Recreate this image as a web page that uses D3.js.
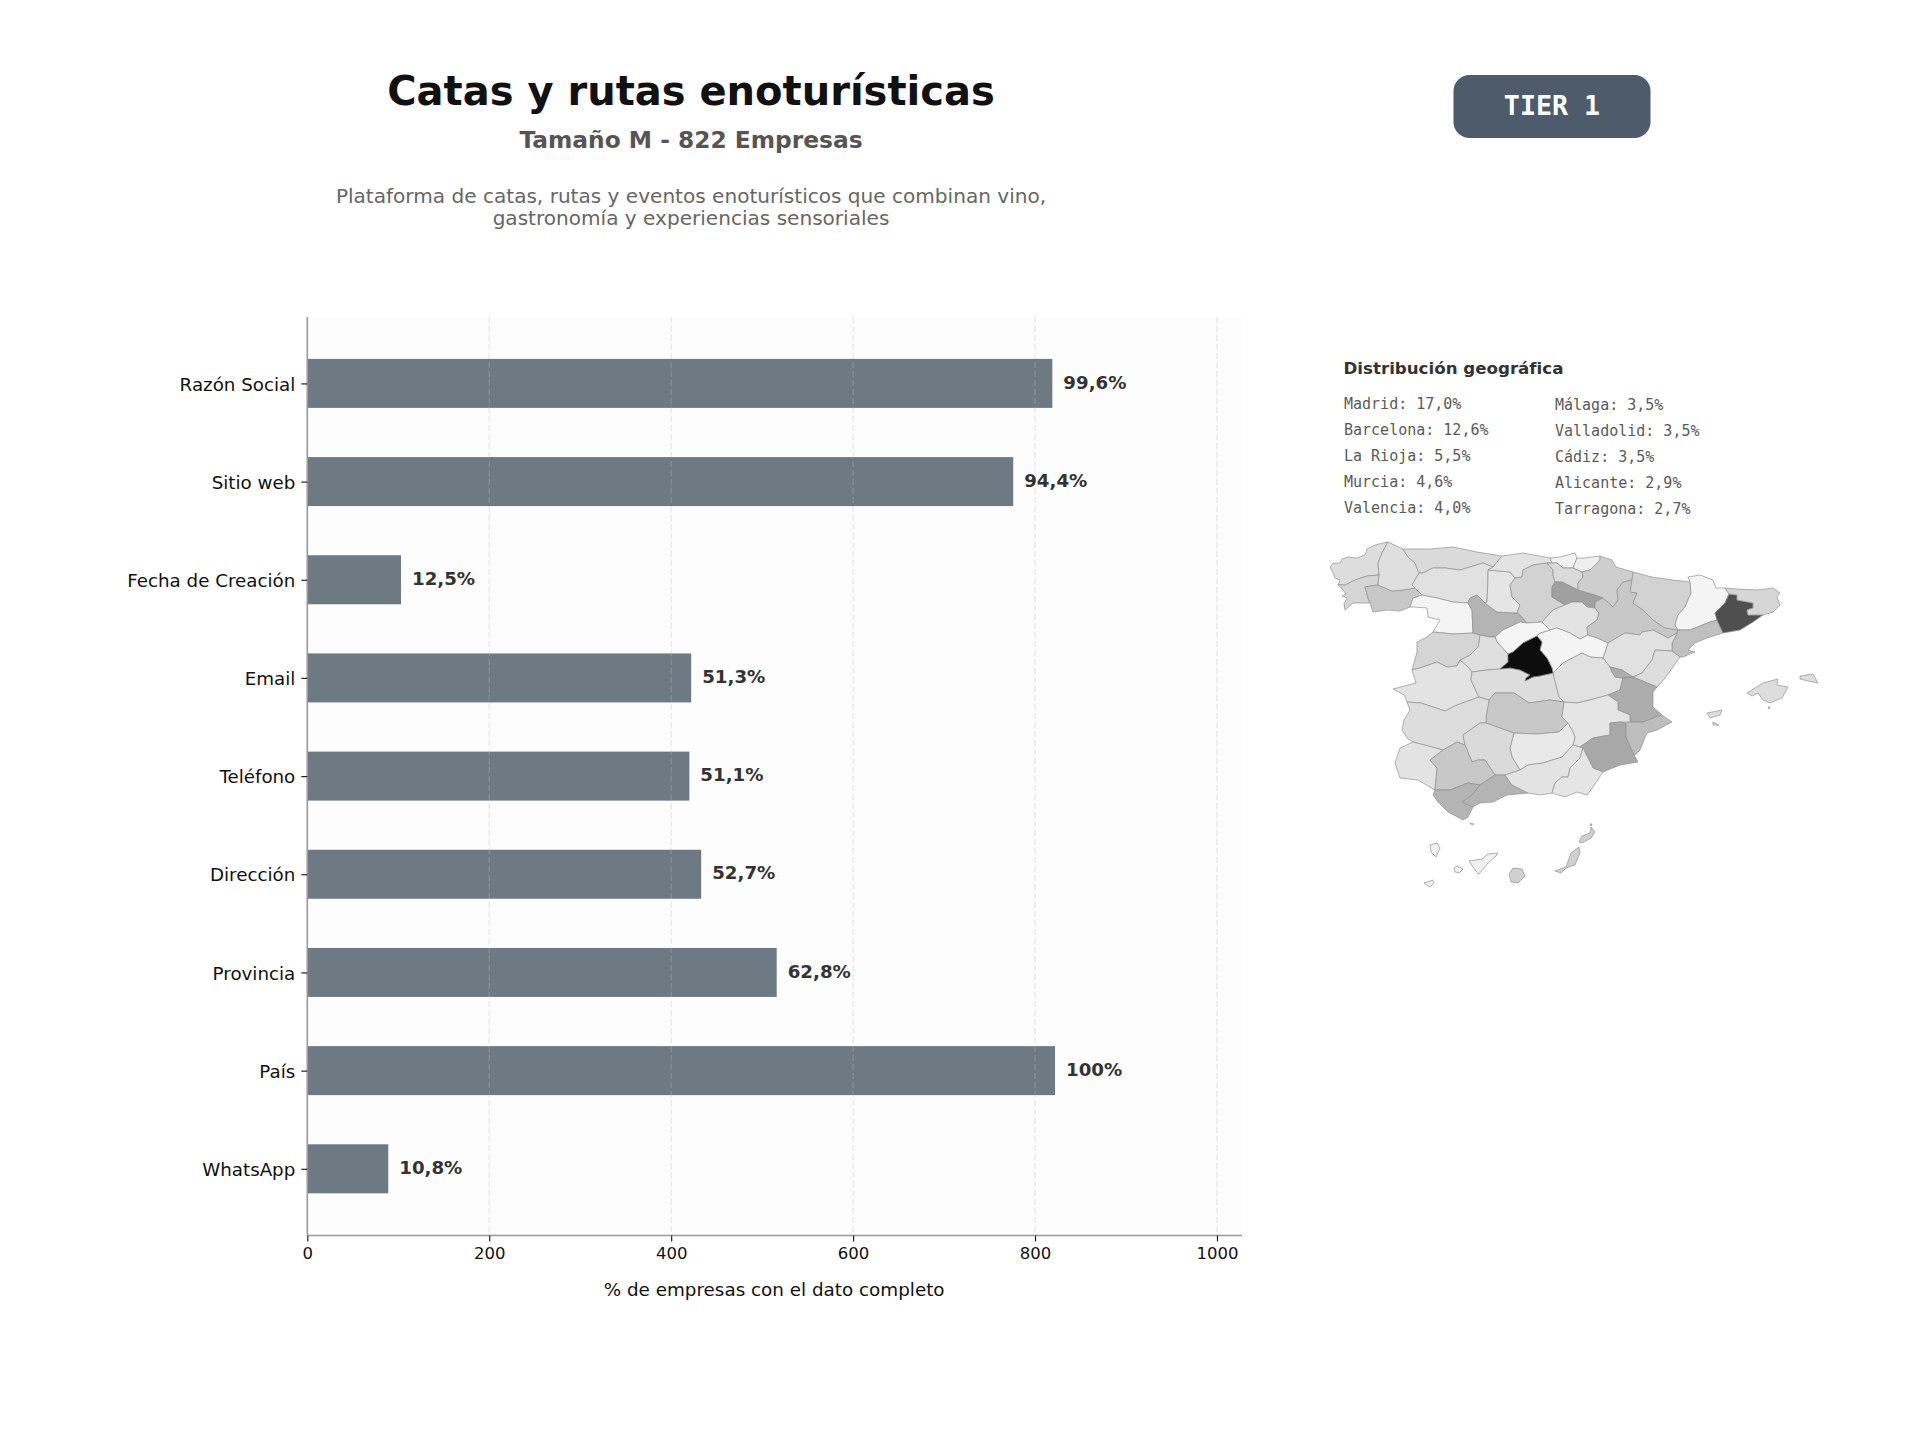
<!DOCTYPE html>
<html lang="es">
<head>
<meta charset="utf-8">
<title>Catas y rutas enoturísticas</title>
<script src="https://cdn.jsdelivr.net/npm/d3@7"></script>
<style>
html,body{margin:0;padding:0;background:#fff}
svg{display:block}
text{font-family:"DejaVu Sans",sans-serif}
.mono{font-family:"DejaVu Sans Mono",monospace}
</style>
</head>
<body>
<svg id="chart" width="1920" height="1440" viewBox="0 0 1920 1440"></svg>
<script>
const titleText = "Catas y rutas enoturísticas";
const subtitleText = "Tamaño M - 822 Empresas";
const descriptionLines = ["Plataforma de catas, rutas y eventos enoturísticos que combinan vino,", "gastronomía y experiencias sensoriales"];
const badgeText = "TIER 1";
const axisTitle = "% de empresas con el dato completo";
const mapTitle = "Distribución geográfica";

const categories = ["Razón Social","Sitio web","Fecha de Creación","Email","Teléfono","Dirección","Provincia","País","WhatsApp"];
const counts = [819,776,103,422,420,433,516,822,89];
const percentLabels = ["99,6%","94,4%","12,5%","51,3%","51,1%","52,7%","62,8%","100%","10,8%"];
const xTicks = [0,200,400,600,800,1000];
const xMax = 1027.5;

const topLeft = ["Madrid: 17,0%","Barcelona: 12,6%","La Rioja: 5,5%","Murcia: 4,6%","Valencia: 4,0%"];
const topRight = ["Málaga: 3,5%","Valladolid: 3,5%","Cádiz: 3,5%","Alicante: 2,9%","Tarragona: 2,7%"];

// Province shares (%): the ten listed are printed; the rest are estimated from the shade on the map.
const shareStops = [0,2.7,4,5.5,12.6,17];
const greyStops = ["#f7f7f7","#c0c0c0","#adadad","#a0a0a0","#505050","#111111"];

// Province outlines, in map units.
const provinces = [
 {name:"A Coruña",share:1.3,rings:[[[30,47],[33,43],[40,43],[42,39],[48,37],[57,38],[65,35],[67,29],[75,25],[83,23],[88,22],[82,33],[78,43],[79,55],[67,56],[55,60],[45,65],[38,65],[40,60],[35,58],[33,53]]]},
 {name:"Pontevedra",share:1.65,rings:[[[38,65],[45,65],[55,60],[67,56],[79,55],[78,65],[65,67],[68,78],[70,83],[53,83],[45,90],[44,84],[47,78],[42,76],[46,74],[43,70]]]},
 {name:"Ourense",share:2.3,rings:[[[65,67],[78,65],[92,71],[103,70],[115,68],[122,75],[113,78],[110,87],[100,91],[88,90],[73,92],[70,83],[68,78]]]},
 {name:"Lugo",share:1.2,rings:[[[88,22],[103,29],[108,37],[115,43],[119,53],[112,65],[115,68],[103,70],[92,71],[78,65],[79,55],[78,43],[82,33]]]},
 {name:"Asturias",share:1.4,rings:[[[103,29],[130,29],[153,27],[177,32],[202,36],[193,47],[183,43],[160,50],[145,48],[133,48],[123,53],[119,53],[115,43],[108,37]]]},
 {name:"León",share:1.1,rings:[[[119,53],[123,53],[133,48],[145,48],[160,50],[183,43],[193,47],[188,50],[188,58],[187,82],[185,83],[177,75],[170,78],[168,83],[153,82],[137,78],[122,75],[115,68],[112,65]]]},
 {name:"Zamora",share:0.15,rings:[[[113,78],[122,75],[137,78],[153,82],[168,83],[172,90],[173,113],[153,114],[133,112],[140,100],[128,97],[127,88],[115,87],[110,87]]]},
 {name:"Valladolid",share:3.5,rings:[[[170,78],[177,75],[185,83],[197,92],[217,93],[220,95],[227,103],[220,102],[203,110],[195,117],[190,117],[180,115],[173,113],[172,90],[168,83]]]},
 {name:"Palencia",share:0.9,rings:[[[188,50],[210,52],[215,58],[210,65],[212,77],[220,85],[217,93],[197,92],[185,83],[187,82],[188,58]]]},
 {name:"Cantabria",share:1.0,rings:[[[202,36],[223,33],[250,38],[252,43],[247,43],[233,45],[223,50],[222,57],[215,58],[210,52],[188,50],[193,47]]]},
 {name:"Burgos",share:1.8,rings:[[[233,45],[247,43],[253,50],[253,55],[255,62],[252,67],[252,77],[257,80],[265,85],[253,90],[242,102],[227,103],[220,95],[217,93],[220,85],[212,77],[210,65],[215,58],[222,57],[223,50]]]},
 {name:"Bizkaia",share:0.3,rings:[[[250,38],[260,37],[275,33],[277,38],[273,48],[263,48],[257,43],[252,43]]]},
 {name:"Gipuzkoa",share:0.4,rings:[[[277,38],[285,38],[300,36],[300,40],[290,50],[282,52],[273,48]]]},
 {name:"Álava",share:1.4,rings:[[[252,43],[257,43],[263,48],[273,48],[282,52],[283,57],[278,63],[278,70],[262,62],[255,62],[253,55],[253,50],[247,43]]]},
 {name:"La Rioja",share:5.5,rings:[[[255,62],[262,62],[278,70],[295,75],[303,78],[295,82],[295,88],[287,87],[282,82],[272,82],[265,85],[257,80],[252,77],[252,67]]]},
 {name:"Soria",share:1.0,rings:[[[242,102],[253,90],[265,85],[272,82],[282,82],[287,87],[295,88],[299,93],[297,100],[287,107],[288,115],[280,119],[270,113],[257,108],[250,110]]]},
 {name:"Navarra",share:2.0,rings:[[[282,52],[290,50],[300,40],[300,36],[312,40],[316,47],[333,52],[332,60],[323,62],[317,70],[318,80],[313,87],[303,78],[295,75],[278,70],[278,63],[283,57]]]},
 {name:"Zaragoza",share:2.3,rings:[[[318,80],[317,70],[323,62],[332,60],[330,72],[337,73],[333,83],[343,90],[353,100],[365,108],[378,110],[377,113],[368,118],[353,110],[342,112],[340,115],[325,113],[308,123],[297,118],[288,115],[287,107],[297,100],[299,93],[295,88],[295,82],[303,78],[313,87]]]},
 {name:"Huesca",share:1.8,rings:[[[333,52],[352,57],[373,60],[390,62],[391,73],[385,87],[378,95],[375,105],[378,110],[365,108],[353,100],[343,90],[333,83],[337,73],[330,72],[332,60]]]},
 {name:"Lleida",share:0.15,rings:[[[390,62],[388,57],[400,55],[413,60],[416,68],[425,68],[429,74],[425,83],[415,93],[417,100],[410,102],[400,106],[390,110],[378,110],[375,105],[378,95],[385,87],[391,73]]]},
 {name:"Tarragona",share:2.7,rings:[[[378,110],[390,110],[400,106],[410,102],[417,100],[423,113],[407,118],[395,123],[388,130],[395,132],[383,137],[380,137],[372,131],[372,123],[377,113]]]},
 {name:"Barcelona",share:12.6,rings:[[[429,74],[437,75],[437,80],[453,83],[453,88],[447,90],[448,95],[463,95],[453,102],[440,110],[423,113],[417,100],[415,93],[425,83]]]},
 {name:"Girona",share:1.6,rings:[[[425,68],[437,69],[457,70],[473,68],[480,73],[477,77],[480,85],[473,92],[463,95],[448,95],[447,90],[453,88],[453,83],[437,80],[437,75],[429,74]]]},
 {name:"Teruel",share:1.1,rings:[[[308,123],[325,113],[340,115],[342,112],[353,110],[368,118],[377,113],[372,123],[372,131],[355,130],[352,140],[342,153],[333,157],[322,150],[310,147],[303,138]]]},
 {name:"Castellón",share:1.3,rings:[[[355,130],[372,131],[380,137],[373,147],[365,158],[357,167],[345,162],[333,157],[342,153],[352,140]]]},
 {name:"Guadalajara",share:0.15,rings:[[[237,116],[240,113],[250,110],[257,108],[270,113],[280,119],[288,115],[297,118],[308,123],[303,138],[290,137],[282,133],[263,143],[253,153],[252,148],[247,138],[240,130],[242,122]]]},
 {name:"Segovia",share:0.1,rings:[[[195,117],[203,110],[220,102],[227,103],[242,102],[250,110],[240,113],[237,116],[223,123],[213,132],[208,134],[197,122]]]},
 {name:"Ávila",share:1.2,rings:[[[180,115],[190,117],[195,117],[197,122],[208,134],[208,142],[200,149],[187,150],[172,152],[168,147],[160,140],[170,135],[178,127]]]},
 {name:"Salamanca",share:1.65,rings:[[[117,122],[127,117],[133,112],[153,114],[173,113],[180,115],[178,127],[170,135],[160,140],[157,146],[147,147],[137,142],[120,148],[112,150],[117,132]]]},
 {name:"Cáceres",share:1.0,rings:[[[112,150],[120,148],[137,142],[147,147],[157,146],[160,140],[168,147],[172,152],[171,160],[177,173],[179,177],[157,185],[145,191],[121,183],[107,182],[104,175],[93,169],[116,163]]]},
 {name:"Toledo",share:1.3,rings:[[[172,152],[187,150],[200,149],[210,148],[220,150],[230,155],[226,158],[225,161],[233,157],[240,156],[253,153],[259,177],[264,182],[250,180],[229,183],[214,173],[195,173],[189,180],[179,177],[177,173],[171,160]]]},
 {name:"Madrid",share:17,rings:[[[237,116],[242,122],[240,130],[247,138],[252,148],[253,153],[240,156],[233,157],[225,161],[226,158],[230,155],[220,150],[210,148],[200,149],[208,142],[208,134],[213,132],[223,123]]]},
 {name:"Cuenca",share:1.1,rings:[[[253,153],[263,143],[282,133],[290,137],[303,138],[310,147],[312,152],[315,157],[323,158],[320,170],[308,175],[290,180],[277,183],[264,182],[259,177]]]},
 {name:"Valencia",share:4.0,rings:[[[323,158],[333,157],[345,162],[357,167],[353,172],[353,187],[362,195],[343,202],[330,202],[330,195],[318,190],[318,182],[308,175],[320,170]],[[310,147],[322,150],[333,157],[323,158],[315,157],[312,152]]]},
 {name:"Ciudad Real",share:2.3,rings:[[[189,180],[195,173],[214,173],[229,183],[250,180],[264,182],[262,197],[268,203],[259,212],[237,214],[214,213],[186,203],[186,197]]]},
 {name:"Albacete",share:0.9,rings:[[[264,182],[277,183],[290,180],[308,175],[318,182],[318,190],[330,195],[330,202],[320,202],[310,203],[310,215],[293,218],[280,227],[273,225],[275,217],[272,210],[268,203],[262,197]]]},
 {name:"Murcia",share:4.6,rings:[[[280,227],[293,218],[310,215],[310,203],[320,202],[326,203],[326,217],[333,233],[338,242],[332,243],[320,245],[303,252],[293,248],[283,228]]]},
 {name:"Alicante",share:2.9,rings:[[[326,203],[330,202],[343,202],[362,195],[372,202],[357,210],[347,213],[340,230],[335,235],[333,233],[326,217]]]},
 {name:"Badajoz",share:1.3,rings:[[[107,182],[121,183],[145,191],[157,185],[179,177],[189,180],[186,197],[186,203],[180,203],[163,215],[165,225],[157,222],[143,230],[113,222],[107,218],[102,210],[104,200],[110,190]]]},
 {name:"Jaén",share:0.7,rings:[[[214,213],[237,214],[259,212],[268,203],[272,210],[275,217],[273,225],[262,237],[243,243],[228,245],[220,250],[212,237],[210,228]]]},
 {name:"Córdoba",share:1.4,rings:[[[163,215],[180,203],[186,203],[214,213],[210,228],[212,237],[220,250],[205,255],[195,255],[185,240],[178,240],[172,242],[165,225]]]},
 {name:"Huelva",share:1.0,rings:[[[95,243],[100,228],[113,222],[143,230],[130,240],[137,248],[135,270],[118,260],[100,258]]]},
 {name:"Sevilla",share:2.3,rings:[[[130,240],[143,230],[157,222],[165,225],[172,242],[178,240],[185,240],[195,255],[180,265],[168,263],[150,270],[135,270],[137,248]]]},
 {name:"Cádiz",share:3.5,rings:[[[133,275],[135,270],[150,270],[168,263],[180,265],[172,275],[162,282],[173,287],[168,297],[163,300],[148,292],[138,282]]]},
 {name:"Málaga",share:3.5,rings:[[[180,265],[195,255],[205,255],[212,265],[228,273],[207,275],[193,282],[180,283],[173,287],[162,282],[172,275]]]},
 {name:"Granada",share:1.0,rings:[[[205,255],[220,250],[228,245],[243,243],[262,237],[273,225],[280,227],[283,228],[280,238],[270,248],[268,257],[262,257],[255,263],[252,273],[240,275],[228,273],[212,265]]]},
 {name:"Almería",share:0.9,rings:[[[283,228],[293,248],[303,252],[293,267],[287,275],[277,272],[265,277],[252,273],[255,263],[262,257],[268,257],[270,248],[280,238]]]},
 {name:"Illes Balears",share:1.3,rings:[[[447,173],[463,163],[478,159],[477,165],[488,167],[482,178],[470,183],[463,180],[458,173],[452,176]],[[500,156],[513,154],[518,163],[508,161],[500,159]],[[407,193],[422,190],[420,195],[410,198]],[[413,202],[419,205],[413,205]],[[468,187],[470,187],[469,189]]]},
 {name:"Santa Cruz de Tenerife",share:0.35,rings:[[[130,325],[137,323],[140,328],[136,337],[131,332]],[[169,341],[182,339],[188,334],[198,333],[196,336],[188,343],[179,354],[175,350]],[[154,348],[157,346],[163,349],[159,353],[155,352]],[[124,363],[133,360],[134,363],[130,367]]]},
 {name:"Las Palmas",share:1.9,rings:[[[209,354],[213,348],[222,349],[225,356],[218,363],[211,362]],[[255,351],[266,347],[271,333],[279,327],[280,333],[275,345],[266,348],[261,353]],[[279,322],[282,316],[290,313],[291,307],[295,312],[291,318],[282,323]],[[290,304],[292,304],[291,306]]]},
 {name:"Ceuta",share:0.6,rings:[[[170,303],[174,304],[172,305]]]}
];

const svg = d3.select("#chart");
svg.append("rect").attr("width",1920).attr("height",1440).attr("fill","#fff");
svg.append("defs").append("filter").attr("id","soft")
  .attr("x","-2%").attr("y","-2%").attr("width","104%").attr("height","104%")
  .append("feGaussianBlur").attr("stdDeviation",0.35);

// Header
svg.append("text").attr("x",691).attr("y",105).attr("text-anchor","middle")
  .attr("font-size",40).attr("font-weight",700).attr("fill","#111").text(titleText);
svg.append("text").attr("x",691).attr("y",148).attr("text-anchor","middle")
  .attr("font-size",23.33).attr("font-weight",700).attr("fill","#555").text(subtitleText);
svg.append("g").selectAll("text").data(descriptionLines).join("text")
  .attr("x",691).attr("y",(d,i)=>203+i*22).attr("text-anchor","middle")
  .attr("font-size",20.07).attr("fill","#666").text(d=>d);

// Badge
svg.append("rect").attr("x",1453.5).attr("y",75).attr("width",197).attr("height",63).attr("rx",16)
  .attr("fill","#4d5b6a");
svg.append("text").attr("class","mono").attr("x",1552).attr("y",115).attr("text-anchor","middle")
  .attr("font-size",26.67).attr("font-weight",700).attr("fill","#fff").text(badgeText);

// Bars
const plot = {left:307.3,right:1242,top:317,bottom:1235.5};
const x = d3.scaleLinear().domain([0,xMax]).range([plot.left,plot.right]);
const y = d3.scalePoint().domain(categories).range([383.4,1168.8]);
const barH = 49;

svg.append("rect").attr("x",plot.left).attr("y",plot.top)
  .attr("width",plot.right-plot.left).attr("height",plot.bottom-plot.top).attr("fill","#fdfdfd");

svg.append("g").selectAll("rect").data(categories).join("rect")
  .attr("x",x(0)).attr("y",d=>y(d)-barH/2)
  .attr("width",(d,i)=>x(counts[i])-x(0)).attr("height",barH).attr("fill","#6e7a83");

svg.append("g").selectAll("line").data(xTicks.slice(1)).join("line")
  .attr("x1",d=>x(d)).attr("x2",d=>x(d)).attr("y1",plot.top).attr("y2",plot.bottom)
  .attr("stroke","#bbb").attr("stroke-opacity",0.35).attr("stroke-width",1.2).attr("stroke-dasharray","6 3");

svg.append("g").selectAll("text").data(categories).join("text")
  .attr("x",(d,i)=>x(counts[i])+11).attr("y",d=>y(d)-1.4).attr("dy","0.36em")
  .attr("font-size",18.2).attr("font-weight",700).attr("fill","#333")
  .text((d,i)=>percentLabels[i]);

// Axes
const gx = svg.append("g").attr("transform",`translate(0,${plot.bottom})`)
  .call(d3.axisBottom(x).tickValues(xTicks).tickSize(6).tickPadding(6).tickFormat(d=>d));
gx.select(".domain").attr("stroke","#999").attr("stroke-width",1.6).attr("d",`M${plot.left},0H${plot.right}`);
gx.selectAll(".tick line").attr("stroke","#222").attr("stroke-width",1.2);
gx.selectAll("text").attr("font-size",16.5).attr("fill","#111").style("font-family",'"DejaVu Sans"');

const gy = svg.append("g").attr("transform",`translate(${plot.left},0)`)
  .call(d3.axisLeft(y).tickSize(6).tickPadding(6));
gy.select(".domain").attr("stroke","#999").attr("stroke-width",1.6).attr("d",`M0,${plot.top}V${plot.bottom}`);
gy.selectAll(".tick line").attr("stroke","#222").attr("stroke-width",1.2);
gy.selectAll("text").attr("font-size",18.25).attr("fill","#111").attr("y",0.8).style("font-family",'"DejaVu Sans"');

svg.append("text").attr("x",(plot.left+plot.right)/2-0.5).attr("y",1296).attr("text-anchor","middle")
  .attr("font-size",18.33).attr("fill","#111").text(axisTitle);

// Map legend
svg.append("text").attr("x",1343.5).attr("y",374).attr("font-size",16.67).attr("font-weight",700)
  .attr("fill","#333").text(mapTitle);
svg.append("g").selectAll("text").data(topLeft).join("text").attr("class","mono")
  .attr("x",1344).attr("y",(d,i)=>409+i*26).attr("font-size",15).attr("fill","#5a5a5a").text(d=>d);
svg.append("g").selectAll("text").data(topRight).join("text").attr("class","mono")
  .attr("x",1555).attr("y",(d,i)=>410+i*26).attr("font-size",15).attr("fill","#5a5a5a").text(d=>d);

// Map
const shade = d3.scaleLinear().domain(shareStops).range(greyStops).interpolate(d3.interpolateRgb);
const projection = d3.geoIdentity().translate([1300,520]);
const mapPath = d3.geoPath(projection);
const features = provinces.map(p=>({type:"Feature",properties:{name:p.name,share:p.share},
  geometry:{type:"MultiPolygon",coordinates:p.rings.map(r=>[r.concat([r[0]])])}}));
svg.append("g").attr("filter","url(#soft)").selectAll("path").data(features).join("path")
  .attr("d",mapPath).attr("fill",d=>shade(d.properties.share))
  .attr("stroke","#909090").attr("stroke-width",0.7).attr("stroke-linejoin","round");
</script>
</body>
</html>
